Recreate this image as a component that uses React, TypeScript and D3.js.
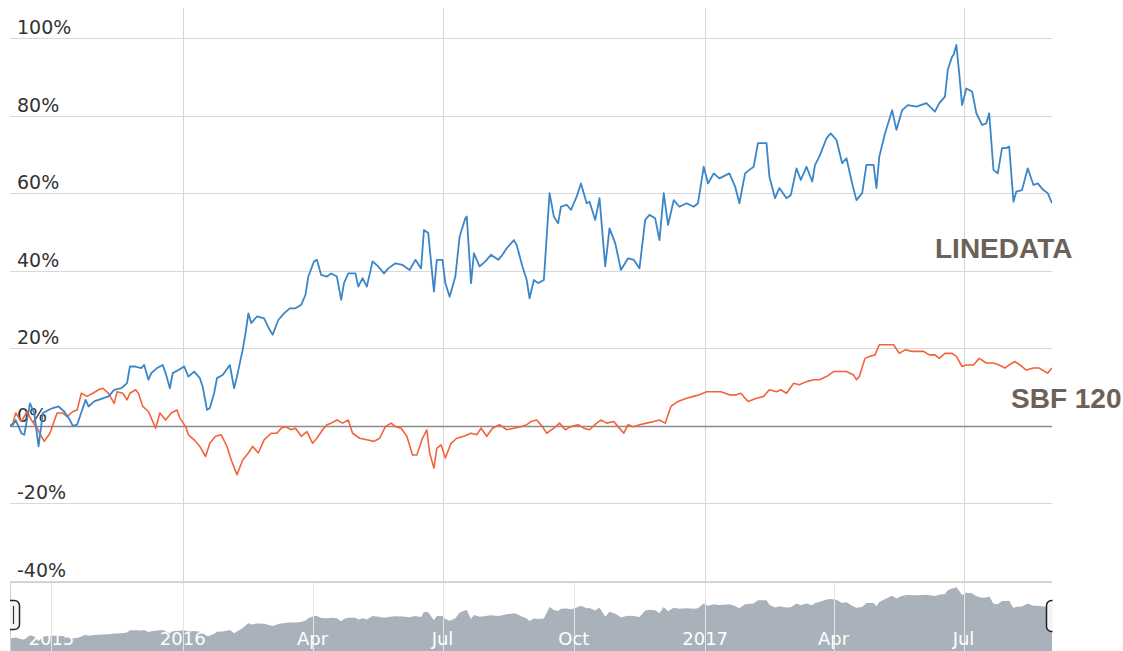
import React from "react";
import * as d3 from "d3";

// ---------- data ----------
const startDateStr = "2015-09-02";
const endDateStr = "2017-09-01";
const seriesNames = ["LINEDATA", "SBF 120"];

// days since start date
const linedataDays = [
  0, 2, 4, 8, 10, 14, 17, 20, 23, 27, 30, 34, 38, 42, 44, 47, 49, 53, 55, 59,
  65, 69, 73, 78, 82, 84, 88, 92, 94, 97, 99, 103, 107, 109, 112, 114, 118, 122, 125, 129,
  133, 135, 138, 140, 143, 145, 149, 154, 157, 159, 163, 165, 167, 169, 173, 178, 182, 184, 188, 192,
  196, 200, 204, 207, 209, 213, 215, 218, 222, 225, 229, 232, 234, 237, 242, 244, 247, 250, 254, 258,
  262, 265, 270, 275, 280, 284, 288, 290, 293, 297, 299, 303, 305, 308, 312, 315, 319, 320, 323, 325,
  329, 333, 337, 342, 345, 348, 353, 355, 359, 362, 364, 367, 370, 374, 378, 381, 384, 386, 390, 393,
  397, 400, 404, 406, 410, 413, 417, 420, 424, 428, 433, 437, 441, 445, 448, 452, 455, 458, 461, 465,
  469, 474, 479, 482, 486, 489, 493, 497, 504, 508, 511, 515, 518, 521, 524, 530, 532, 536, 539, 544,
  547, 551, 554, 558, 562, 564, 567, 572, 575, 579, 583, 586, 590, 593, 597, 600, 605, 607, 609, 613,
  618, 621, 625, 629, 635, 642, 648, 651, 655, 657, 660, 661, 663, 665, 667, 670, 674, 677, 681, 684,
  686, 689, 692, 695, 698, 700, 703, 705, 709, 713, 717, 720, 724, 727, 730,
];
const linedataValues = [
  0, 0.3, 1.5, -1.9, -2.3, 5.8, 3.3, -5.3, 3.3, 4.1, 4.6, 5.0, 3.7, 1.5, 0, 0.3, 2.4, 6.7, 5.0, 6.3,
  7.1, 7.6, 9.3, 9.7, 11.0, 15.3, 15.3, 14.9, 15.7, 11.9, 13.6, 14.9, 15.7, 13.6, 9.7, 13.6, 14.4, 15.3, 12.7, 14.0,
  12.3, 10.1, 4.1, 4.6, 8.4, 12.3, 13.1, 15.7, 9.7, 12.7, 19.6, 23.9, 29.0, 26.5, 28.2, 27.7, 24.7, 23.5, 27.3, 29.0,
  30.3, 30.3, 31.2, 33.8, 38.5, 42.4, 42.8, 38.9, 38.5, 39.3, 38.5, 32.5, 36.8, 39.3, 39.3, 35.9, 38.1, 35.9, 42.4, 41.1,
  39.3, 40.6, 41.9, 41.5, 40.2, 42.8, 40.6, 50.5, 49.7, 34.6, 42.8, 42.8, 36.8, 33.3, 38.5, 48.8, 53.5, 54.0, 36.8, 44.5,
  41.1, 42.4, 44.1, 42.8, 44.1, 45.8, 47.9, 46.6, 41.1, 37.6, 32.9, 37.6, 36.8, 37.6, 60.0, 54.0, 52.2, 56.5, 57.0, 55.7,
  59.1, 62.5, 57.4, 57.8, 53.1, 58.7, 41.1, 50.9, 47.1, 40.2, 43.2, 42.8, 40.6, 53.1, 54.4, 53.5, 47.9, 60.0, 51.8, 58.2,
  56.5, 57.4, 56.5, 57.4, 66.8, 62.5, 65.1, 63.8, 65.1, 61.7, 57.4, 65.1, 66.0, 66.8, 72.9, 72.9, 64.3, 58.7, 61.3, 58.7,
  59.5, 66.4, 63.4, 66.8, 63.0, 67.3, 69.4, 74.1, 75.4, 73.7, 67.7, 69.0, 62.5, 58.2, 60.0, 67.3, 67.3, 61.3, 69.4, 75.4,
  81.4, 76.3, 81.4, 82.7, 82.3, 83.2, 81.0, 83.2, 84.9, 91.8, 95.2, 95.6, 98.2, 90.9, 82.7, 87.0, 86.2, 80.6, 77.6, 78.0,
  80.6, 66.0, 65.1, 71.6, 71.6, 72.0, 57.8, 60.4, 60.8, 66.4, 62.1, 62.5, 60.8, 60.0, 57.4,
];

const sbfDays = [
  0, 2, 4, 8, 12, 15, 19, 22, 24, 28, 30, 33, 37, 40, 44, 47, 50, 54, 58, 62,
  65, 69, 73, 75, 79, 82, 84, 88, 90, 93, 97, 99, 102, 105, 109, 113, 117, 119, 123, 125,
  129, 133, 137, 140, 144, 148, 152, 155, 159, 163, 167, 170, 174, 178, 183, 187, 190, 193, 197, 200,
  204, 208, 212, 215, 219, 222, 225, 229, 233, 237, 240, 245, 250, 255, 259, 263, 267, 270, 274, 278,
  282, 285, 289, 292, 294, 297, 299, 302, 305, 309, 313, 318, 323, 327, 330, 334, 338, 343, 348, 353,
  358, 362, 365, 369, 373, 376, 381, 385, 389, 393, 398, 402, 406, 411, 414, 418, 423, 426, 430, 433,
  437, 441, 446, 451, 455, 459, 463, 468, 474, 479, 483, 488, 493, 498, 504, 509, 512, 517, 523, 528,
  532, 537, 540, 544, 549, 553, 558, 563, 567, 572, 577, 581, 586, 591, 593, 595, 599, 602, 606, 609,
  614, 619, 623, 627, 632, 636, 640, 644, 648, 651, 655, 660, 663, 667, 670, 675, 679, 684, 689, 693,
  697, 700, 704, 709, 712, 717, 721, 725, 727, 730,
];
const sbfValues = [
  0, 0.7, 3.3, 1.1, 3.7, 1.5, -0.6, -2.7, -4.0, -1.9, 0.3, 3.3, 3.3, 2.4, 3.7, 4.1, 8.4, 7.6, 8.4, 9.3,
  9.7, 8.4, 5.8, 8.8, 8.4, 6.7, 8.4, 9.3, 8.4, 5.0, 3.7, 2.0, -0.6, 3.3, 1.5, 3.3, 4.1, 2.0, -0.2, -2.3,
  -3.6, -5.3, -7.9, -4.5, -2.7, -2.3, -5.3, -8.8, -12.6, -8.8, -7.0, -5.3, -7.0, -3.6, -1.9, -1.9, -0.6, -0.2, -1.0, -0.6,
  -2.7, -1.5, -4.5, -3.2, -1.0, 0.3, 0.7, 1.5, 0.7, 1.5, -1.9, -3.2, -3.6, -4.0, -3.2, -0.2, 0.7, -0.2, -0.6, -2.7,
  -7.5, -7.5, -3.2, -1.0, -7.0, -10.9, -5.8, -4.9, -8.3, -4.5, -3.2, -2.7, -1.9, -2.3, -0.6, -2.7, -0.6, 0.3, -1.0, -0.6,
  -0.2, 0.3, 1.1, 1.5, -0.2, -1.9, -0.6, 0.7, -1.0, -0.2, 0.3, -0.6, -1.0, 0.7, 1.5, 0.7, 1.1, -0.2, -1.9, 0.3,
  -0.2, 0.3, 0.7, 1.1, 1.5, 0.7, 5.0, 6.3, 7.1, 7.6, 8.0, 8.8, 8.8, 8.8, 8.0, 8.0, 8.4, 6.3, 7.1, 7.6,
  9.3, 8.8, 9.3, 8.4, 11.0, 10.6, 11.4, 11.9, 11.9, 12.7, 14.0, 14.0, 14.0, 13.1, 11.9, 12.7, 17.4, 17.9, 18.3, 20.9,
  20.9, 20.9, 18.7, 19.6, 19.2, 19.2, 19.2, 18.3, 18.3, 17.4, 18.7, 18.7, 17.9, 15.3, 15.7, 15.7, 17.4, 16.2, 16.2, 15.7,
  14.9, 15.7, 16.6, 15.3, 14.4, 14.9, 14.9, 14.0, 13.6, 14.9,
];

const yTickValues = [-40, -20, 0, 20, 40, 60, 80, 100];
const mainTickDates = ["2016-01-01", "2016-07-01", "2017-01-01", "2017-07-01"];
const navTickDates = [
  "2015-10-01", "2016-01-01", "2016-04-01", "2016-07-01",
  "2016-10-01", "2017-01-01", "2017-04-01", "2017-07-01",
];
const navTickLabels = ["2015", "2016", "Apr", "Jul", "Oct", "2017", "Apr", "Jul"];

// ---------- chart ----------
const W = 1123;
const H = 651;
const LEFT = 10;
const RIGHT = 1052;
const TOP = 8;
const PLOT_BOTTOM = 582;

export default function App() {
  const parse = d3.timeParse("%Y-%m-%d");
  const start = parse(startDateStr) as Date;
  const end = parse(endDateStr) as Date;

  const x = d3.scaleTime().domain([start, end]).range([LEFT, RIGHT]);
  const y = d3.scaleLinear().domain([-40, 100]).range([581, 38]);
  const ext = d3.extent(linedataValues) as [number, number];
  const yNav = d3.scaleLinear().domain(ext).range([641, 587]);

  const toPoints = (days: number[], vals: number[]) =>
    days.map((d, i) => ({ date: d3.timeDay.offset(start, d), v: vals[i] }));

  const lineData = toPoints(linedataDays, linedataValues);
  const sbfData = toPoints(sbfDays, sbfValues);

  const line = d3
    .line<{ date: Date; v: number }>()
    .x((d) => x(d.date))
    .y((d) => y(d.v));

  const navArea = d3
    .area<{ date: Date; v: number }>()
    .x((d) => x(d.date))
    .y0(H + 10)
    .y1((d) => yNav(d.v));

  const labelFont = "'DejaVu Sans', Verdana, sans-serif";
  const boldFont = "'Liberation Sans', Arial, Helvetica, sans-serif";

  return (
    <svg
      width={W}
      height={H}
      style={{ position: "absolute", left: 0, top: 0, background: "#fff" }}
    >
      <defs>
        <clipPath id="plotClip">
          <rect x={LEFT} y={TOP} width={RIGHT - LEFT} height={PLOT_BOTTOM - TOP} />
        </clipPath>
        <clipPath id="navClip">
          <rect x={LEFT} y={PLOT_BOTTOM} width={RIGHT - LEFT} height={H - PLOT_BOTTOM + 10} />
        </clipPath>
        <clipPath id="handleClipL">
          <rect x={LEFT} y={580} width={30} height={80} />
        </clipPath>
        <clipPath id="handleClipR">
          <rect x={RIGHT - 30} y={580} width={30.5} height={80} />
        </clipPath>
      </defs>

      {/* vertical grid lines (main) */}
      {mainTickDates.map((d) => {
        const xx = Math.round(x(parse(d) as Date)) + 0.5;
        return (
          <line key={"vg" + d} x1={xx} x2={xx} y1={TOP} y2={PLOT_BOTTOM} stroke="#d6d6d6" strokeWidth={1} />
        );
      })}

      {/* horizontal grid lines */}
      {yTickValues.map((t) => {
        const yy = Math.round(y(t)) + 0.5;
        return (
          <line
            key={"hg" + t}
            x1={LEFT}
            x2={RIGHT}
            y1={yy}
            y2={yy}
            stroke={t === 0 ? "#8a8a8a" : "#d8d8d8"}
            strokeWidth={t === 0 ? 1.5 : 1}
          />
        );
      })}

      {/* y labels */}
      {yTickValues.map((t) => (
        <text
          key={"yl" + t}
          x={17}
          y={y(t) - 4}
          fontFamily={labelFont}
          fontSize={19}
          fill="#333"
        >
          {t + "%"}
        </text>
      ))}

      {/* series lines */}
      <g clipPath="url(#plotClip)">
        <path d={line(sbfData) || ""} fill="none" stroke="#f4623a" strokeWidth={1.6} strokeLinejoin="round" />
        <path d={line(lineData) || ""} fill="none" stroke="#3a86c8" strokeWidth={1.8} strokeLinejoin="round" />
      </g>

      {/* navigator */}
      <g clipPath="url(#navClip)">
        <path d={navArea(lineData) || ""} fill="#a9b2bb" stroke="none" />
        {navTickDates.map((d) => {
          const xx = Math.round(x(parse(d) as Date)) + 0.5;
          return (
            <line key={"ng" + d} x1={xx} x2={xx} y1={PLOT_BOTTOM} y2={H} stroke="#e4e4e4" strokeWidth={1} />
          );
        })}
        {navTickDates.map((d, i) => (
          <text
            key={"nl" + d}
            x={x(parse(d) as Date)}
            y={645}
            textAnchor="middle"
            fontFamily={labelFont}
            fontSize={18}
            fill="#ffffff"
          >
            {navTickLabels[i]}
          </text>
        ))}
      </g>
      <line x1={LEFT} x2={RIGHT} y1={PLOT_BOTTOM + 0.5} y2={PLOT_BOTTOM + 0.5} stroke="#cfcfcf" strokeWidth={1} />
      <line x1={LEFT + 0.5} x2={LEFT + 0.5} y1={PLOT_BOTTOM} y2={H} stroke="#cfcfcf" strokeWidth={1} />

      {/* navigator handles */}
      <g clipPath="url(#handleClipL)">
        <rect x={0.5} y={600.5} width={19} height={29} rx={5} fill="#f4f4f4" stroke="#222" strokeWidth={1.5} />
        <line x1={13.5} x2={13.5} y1={606} y2={624} stroke="#333" strokeWidth={1.2} />
      </g>
      <g clipPath="url(#handleClipR)">
        <rect x={RIGHT - 5.5} y={600.5} width={19} height={31} rx={5} fill="#f4f4f4" stroke="#222" strokeWidth={1.5} />
      </g>

      {/* series labels */}
      <text x={935} y={258} fontFamily={boldFont} fontWeight="bold" fontSize={28} fill="#6c6157">
        {seriesNames[0]}
      </text>
      <text x={1011} y={408} fontFamily={boldFont} fontWeight="bold" fontSize={28} fill="#6c6157">
        {seriesNames[1]}
      </text>
    </svg>
  );
}
